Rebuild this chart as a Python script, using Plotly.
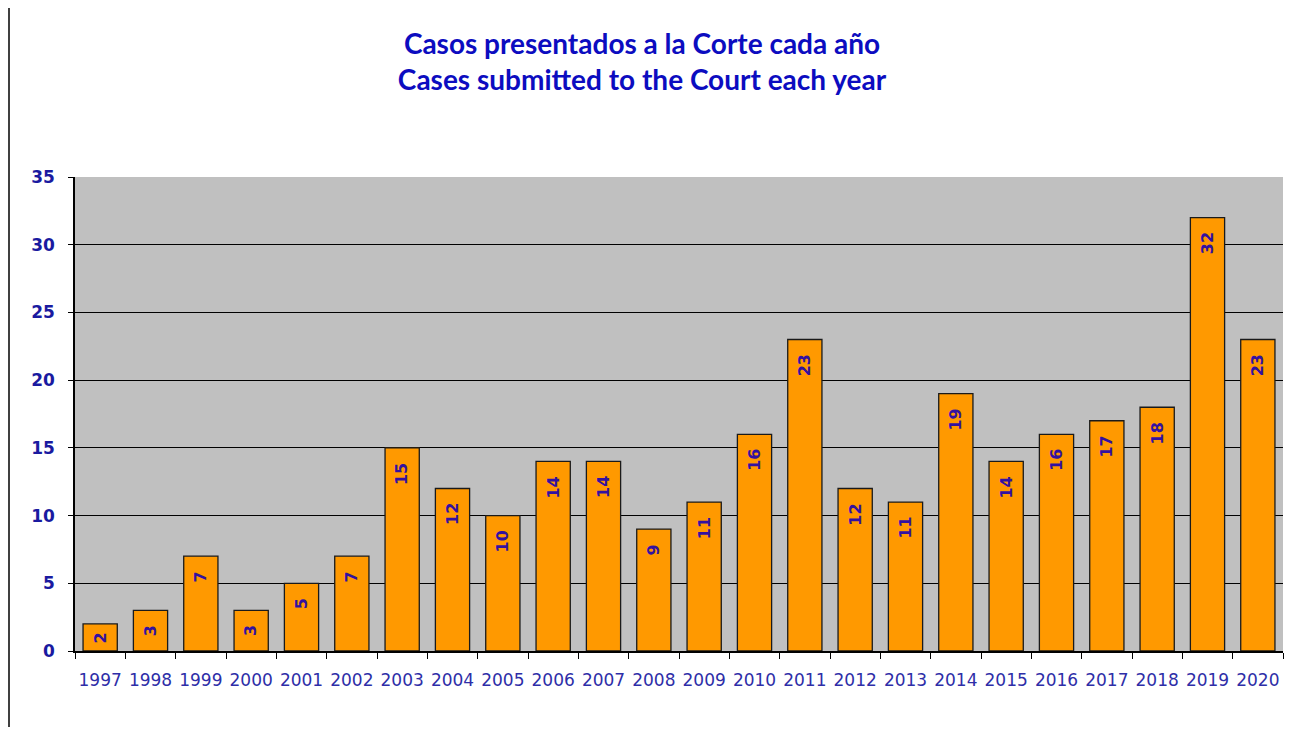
import plotly.graph_objects as go

years = ["1997","1998","1999","2000","2001","2002","2003","2004","2005","2006","2007","2008",
         "2009","2010","2011","2012","2013","2014","2015","2016","2017","2018","2019","2020"]
cases = [2,3,7,3,5,7,15,12,10,14,14,9,11,16,23,12,11,19,14,16,17,18,32,23]
y_ticks = [0,5,10,15,20,25,30,35]

# page is rendered with an 8px body margin; size the figure to fit inside
W, H = 1291, 719
L, R, T, B = 67, 16, 169, 76
pw, ph = W - L - R, H - T - B

fig = go.Figure(go.Bar(
    x=years, y=cases,
    marker=dict(color="#FF9900", line=dict(color="#1a1a1a", width=1.3)),
    hoverinfo="x+y",
))

annotations = []
for i, v in enumerate(cases):
    annotations.append(dict(
        x=i, y=v, xref="x", yref="y",
        text=str(v), showarrow=False,
        textangle=-90,
        xanchor="center", yanchor="top",
        yshift=-13 if v > 2 else -7,
        font=dict(family="DejaVu Sans", size=16, color="#3311A0", weight="bold"),
    ))

fig.update_layout(
    width=W, height=H,
    margin=dict(l=L, r=R, t=T, b=B),
    paper_bgcolor="white",
    plot_bgcolor="#C0C0C0",
    bargap=0.32,
    showlegend=False,
    title=dict(
        text="Casos presentados a la Corte cada año<br>Cases submitted to the Court each year",
        x=(642 - 8) / W, xanchor="center",
        yref="container", y=1 - 46 / H, yanchor="top",
        font=dict(family="Lato", size=28, color="#0C0CC0", weight="bold"),
    ),
    xaxis=dict(
        type="category",
        tickson="boundaries",
        ticks="outside", ticklen=6, tickcolor="#000000", tickwidth=1.3,
        showline=True, linecolor="#000000", linewidth=1.5,
        showgrid=False,
        ticklabelstandoff=13,
        tickangle=0,
        tickfont=dict(family="DejaVu Sans", size=17, color="#2E2EA8"),
    ),
    yaxis=dict(
        range=[0, 35],
        tickvals=y_ticks,
        ticks="outside", ticklen=5, tickcolor="#000000", tickwidth=1.3,
        showline=True, linecolor="#000000", linewidth=1.5,
        showgrid=True, gridcolor="#000000", gridwidth=1.2,
        zeroline=False,
        ticklabelstandoff=10,
        tickfont=dict(family="DejaVu Sans", size=17, color="#1A1AA0", weight="bold"),
    ),
    annotations=annotations,
    shapes=[dict(type="line", xref="paper", yref="paper",
                 x0=-(L - 1) / pw, x1=-(L - 1) / pw, y0=-B / ph - 0.05, y1=1 + T / ph + 0.05,
                 line=dict(color="#000000", width=1.5), layer="below")],
)

fig.write_html("out.html")
